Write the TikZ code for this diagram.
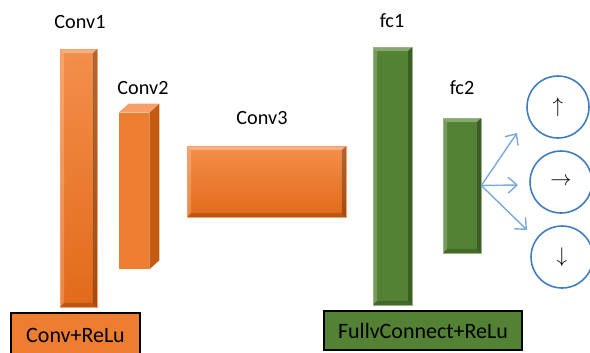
\documentclass[tikz,border=0pt]{standalone}
\usepackage{fontspec}
\setmainfont{Carlito}
\usetikzlibrary{arrows.meta}

\definecolor{convorange}{RGB}{237,125,49}
\definecolor{convlight}{RGB}{243,143,75}
\definecolor{convdark}{RGB}{226,106,26}
\definecolor{convside}{RGB}{197,90,17}
\definecolor{convtop}{RGB}{244,160,104}
\definecolor{fcgreen}{RGB}{84,130,53}
\definecolor{outblue}{RGB}{61,125,192}
\definecolor{arrowblue}{RGB}{120,170,220}

\tikzset{
  bevel/.style={path picture={
    \fill[white,opacity=.3] (path picture bounding box.north west) -- (path picture bounding box.north east)
      -- ([xshift=-#1,yshift=-#1]path picture bounding box.north east) -- ([xshift=#1,yshift=-#1]path picture bounding box.north west) -- cycle;
    \fill[white,opacity=.2] (path picture bounding box.north west) -- (path picture bounding box.south west)
      -- ([xshift=#1,yshift=#1]path picture bounding box.south west) -- ([xshift=#1,yshift=-#1]path picture bounding box.north west) -- cycle;
    \fill[black,opacity=.28] (path picture bounding box.north east) -- (path picture bounding box.south east)
      -- ([xshift=-#1,yshift=#1]path picture bounding box.south east) -- ([xshift=-#1,yshift=-#1]path picture bounding box.north east) -- cycle;
    \fill[black,opacity=.18] (path picture bounding box.south west) -- (path picture bounding box.south east)
      -- ([xshift=-#1,yshift=#1]path picture bounding box.south east) -- ([xshift=#1,yshift=#1]path picture bounding box.south west) -- cycle;
  }},
  bevel/.default=0.08cm,
  convbar/.style={rectangle, inner sep=0pt, draw=convtop, line width=0.4pt,
    top color=convlight, bottom color=convdark, bevel},
  fcbar/.style={rectangle, inner sep=0pt, draw=fcgreen!60!white, line width=0.4pt,
    fill=fcgreen, bevel},
  legendbox/.style={rectangle, draw=black, line width=0.8pt, inner sep=0pt,
    font=\fontsize{12.5}{14}\selectfont},
  outcircle/.style={circle, draw=outblue, line width=0.9pt, minimum size=1.24cm, inner sep=0pt},
  flow/.style={draw=arrowblue, line width=0.8pt, -{Straight Barb[length=5pt,width=9pt]}}
}

\begin{document}
\begin{tikzpicture}[x=0.02cm,y=-0.02cm,
  every node/.style={font=\fontsize{11.5}{13}\selectfont}]
\useasboundingbox (0,0) rectangle (590,352);

% layer labels
\node (l1) at (80,22) {Conv1};
\node (l2) at (143,88) {Conv2};
\node (l3) at (262,118) {Conv3};
\node (l4) at (392,21) {fc1};
\node (l5) at (462,88) {fc2};

% conv layers
\node[convbar, minimum width=0.74cm, minimum height=5.16cm] (conv1) at (78.5,178) {};
\node[rectangle, inner sep=0pt, fill=convorange, minimum width=0.6cm, minimum height=3.12cm] (conv2) at (134,191) {};
\fill[convtop] (conv2.north west) -- ++(10,-9) -- ++(30,0) -- (conv2.north east) -- cycle;
\fill[convside] (conv2.north east) -- ++(10,-9) -- ([shift={(0.2cm,0.18cm)}]conv2.south east) -- (conv2.south east) -- cycle;
\node[convbar=0.15cm, minimum width=3.18cm, minimum height=1.42cm] (conv3) at (266.5,181.5) {};

% fully connected layers
\node[fcbar, minimum width=0.78cm, minimum height=5.16cm] (fc1) at (392.5,176) {};
\node[fcbar, minimum width=0.76cm, minimum height=2.7cm] (fc2) at (462,185.5) {};

% outputs
\node[outcircle] (up) at (558,107) {$\uparrow$};
\node[outcircle] (right) at (561,182) {$\rightarrow$};
\node[outcircle] (down) at (562,257) {$\downarrow$};

\coordinate (a1) at (517,133);
\coordinate (a2) at (518,185);
\coordinate (a3) at (527,230);
\draw[flow] (fc2.east) -- (a1);
\draw[flow] (fc2.east) -- (a2);
\draw[flow] (fc2.east) -- (a3);

% legend
\node[legendbox, fill=convorange, minimum width=2.58cm, minimum height=0.88cm] (convrelu) at (75.5,335) {Conv+ReLu};
\node[legendbox, fill=fcgreen, minimum width=3.96cm, minimum height=0.78cm] (fcrelu) at (423,330.5) {FullvConnect+ReLu};
\end{tikzpicture}
\end{document}
